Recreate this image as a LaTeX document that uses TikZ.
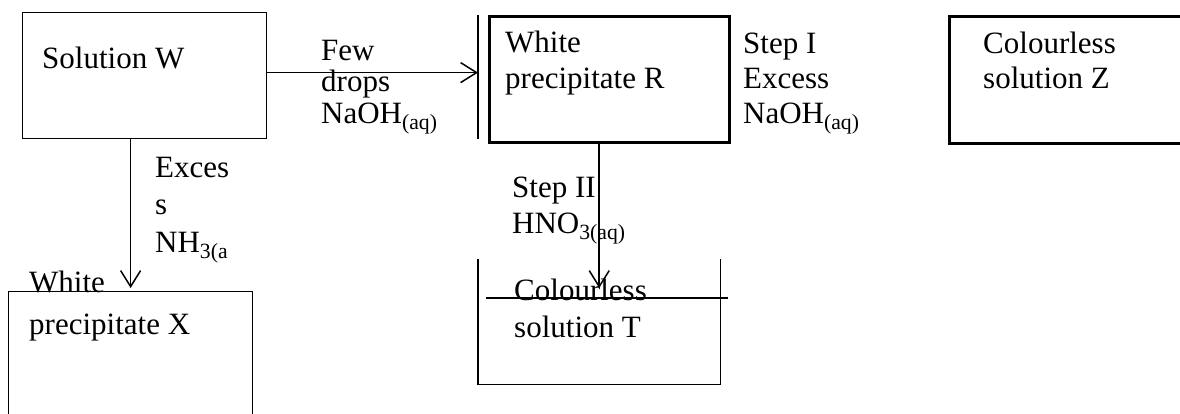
\documentclass[tikz,border=0pt]{standalone}
\usepackage{fontspec}
\setmainfont{Liberation Serif}
\usepackage{tikz}
\usetikzlibrary{positioning, arrows.meta}

\tikzset{
	box/.style = {draw = black, line width = 1.2pt, inner sep = 0pt, anchor = north west},
	thickbox/.style = {box, line width = 3pt},
	lbl/.style = {inner sep = 0pt, anchor = base west, align = left, font = \fontsize{31}{36}\selectfont},
	arr/.style = {line width = 1.5pt, -{Straight Barb[length = 16pt, width = 20pt, line width = 1.5pt]}}
}

\begin{document}
\begin{tikzpicture}[x = 1pt, y = -1pt]
		\useasboundingbox (0, 0) rectangle (1180, 413);
		\clip (0, 0) rectangle (1180, 413);
		% boxes
		\node[box, minimum width = 244pt, minimum height = 126pt] (W) at (22, 12) {};
		\node[thickbox, minimum width = 240pt, minimum height = 126pt] (R) at (488, 15) {};
		\node[thickbox, minimum width = 260pt, minimum height = 127pt] (Z) at (948, 15) {};
		\node[box, minimum width = 244pt, minimum height = 140pt] (X) at (8, 291) {};
		\node[inner sep = 0pt, minimum width = 242pt, minimum height = 125pt, anchor = north west] (T) at (478, 259) {};
		\draw[line width = 2.5pt] (478, 15) coordinate (Rbar) -- (478, 139);
		\draw[line width = 1.3pt] (T.north west) -- (T.south west) -- (T.south east) -- (T.north east);
		\draw[line width = 2.2pt] ([xshift = 8pt, yshift = -39pt]T.north west) -- ([xshift = 8pt, yshift = -39pt]T.north east);
		\coordinate (Tdrop) at ([yshift = -29pt]T.north);
		% arrows
		\draw[arr] ([yshift = 3pt]W.east) -- ([yshift = 3pt]W.east -| Rbar);
		\draw[arr] (W.south -| X.north) -- ([yshift = 3pt]X.north);
		\draw[arr] ([yshift = 3pt]R.south -| T.north) -- (Tdrop);
		% texts (anchored on the last line)
		\node[lbl] (Wtxt) at (42, 68) {Solution W};
		\node[lbl, font = \fontsize{31}{31.5}\selectfont] (fewtxt) at (321, 123) {Few\\drops\\NaOH\textsubscript{(aq)}};
		\node[lbl] (Rtxt) at (505, 88) {White\\precipitate R};
		\node[lbl, font = \fontsize{31}{35}\selectfont] (stepItxt) at (743, 123) {Step I\\Excess\\NaOH\textsubscript{(aq)}};
		\node[lbl, font = \fontsize{31}{35}\selectfont] (Ztxt) at (983, 88) {Colourless\\solution Z};
		\node[lbl, font = \fontsize{31}{37.5}\selectfont] (nhtxt) at (155, 252) {Exces\\s\\NH\textsubscript{3(a}};
		\node[lbl] (stepIItxt) at (512, 233) {Step II\\HNO\textsubscript{3(aq)}};
		\node[lbl, font = \fontsize{31}{42}\selectfont] (Xtxt) at (29, 334) {White\\precipitate X};
		\node[lbl, font = \fontsize{31}{37}\selectfont] (Ttxt) at (514, 337) {Colourless\\solution T};
\end{tikzpicture}
\end{document}
